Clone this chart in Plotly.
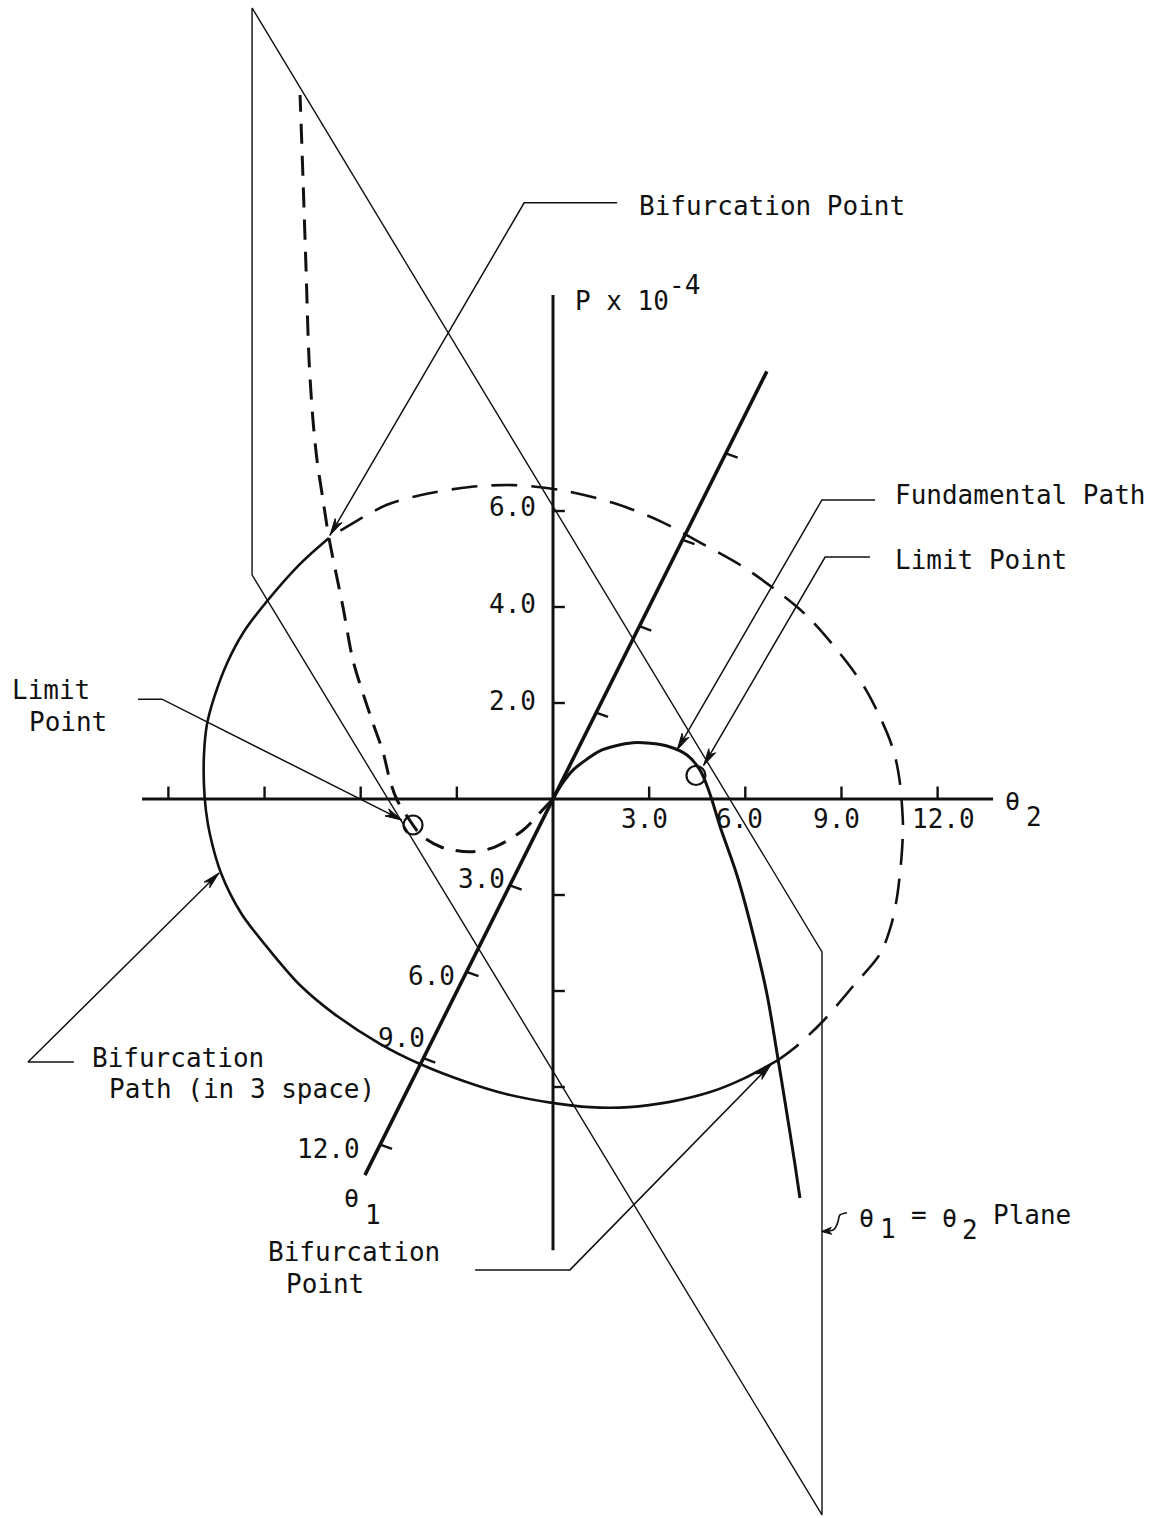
import math
import plotly.graph_objects as go

# ---------------------------------------------------------------
# Oblique drawing: horizontal = theta2, vertical = P (x 10^-4),
# theta1 is drawn receding down-left.
# ---------------------------------------------------------------
TH1_DX = -0.4493   # theta2-units of horizontal shift per unit theta1
TH1_DY = -0.600    # P-units of vertical shift per unit theta1
PX_X, PX_Y = 32.05, 48.0   # pixels per theta2-unit / per P-unit on the page


def proj(th1, th2, p):
    return th2 + TH1_DX * th1, p + TH1_DY * th1


def plane_pts(t_list, p_list):
    """Points of the theta1 = theta2 = t plane."""
    xs, ys = [], []
    for t, p in zip(t_list, p_list):
        x, y = proj(t, t, p)
        xs.append(x)
        ys.append(y)
    return xs, ys


# ---------------- data ----------------
theta2_ticks = [-12, -9, -6, -3, 3, 6, 9, 12]
theta2_labels = ["3.0", "6.0", "9.0", "12.0"]
P_ticks = [-6, -4, -2, 2, 4, 6]
P_labels = ["2.0", "4.0", "6.0"]
theta1_ticks = [-12, -9, -6, -3, 3, 6, 9, 12]
theta1_labels = ["3.0", "6.0", "9.0", "12.0"]

theta2_range = [-12.82, 13.73]
P_range = [-9.4, 10.5]
theta1_range = [-14.85, 13.06]

# fundamental path in the theta1 = theta2 plane (t = theta1 = theta2)
fund_pos_t = [0, 0.51, 1.13, 1.93, 2.66, 3.51, 4.53, 5.50, 6.46, 7.59, 8.33,
              8.73, 9.01, 9.46, 10.42, 11.33, 12.12, 12.75, 13.31, 13.71, 13.99]
fund_pos_P = [0, 0.62, 1.28, 1.99, 2.60, 3.21, 3.89, 4.46, 4.98, 5.47, 5.60,
              5.51, 5.38, 5.11, 4.67, 3.99, 3.21, 2.23, 1.30, 0.61, 0.08]
fund_neg_t = [0, -0.45, -1.70, -3.34, -4.70, -6.35, -7.48, -7.93, -8.84, -9.24,
              -9.63, -10.20, -10.65, -11.33, -11.90, -12.69, -13.03, -13.37,
              -13.60, -13.82, -13.99, -14.16, -14.33]
fund_neg_P = [0, -0.44, -1.67, -3.01, -3.92, -4.81, -5.24, -5.30, -5.32, -5.15,
              -4.80, -4.54, -4.32, -3.91, -3.14, -2.18, -1.59, -0.96,
              -0.26, 0.85, 2.63, 4.39, 6.07]

# limit points and bifurcation points on the fundamental path
limit_t = [-7.93, 8.10]
limit_P = [-5.30, 5.35]
bifpt_t = [-12.69, 12.75]
bifpt_P = [-2.18, 2.22]

# theta1 = theta2 plane outline (t, P corners)
plane_t = [-17.05, 15.24, 15.24, -17.05, -17.05]
plane_P = [6.25, 5.96, -5.77, -5.56, 6.25]

# bifurcation path (in 3 space), as drawn on the theta2-P page
bif_front_x = [-6.99, -7.89, -8.95, -9.67, -10.17, -10.58, -10.80, -10.89, -10.89,
               -10.83, -10.70, -10.36, -9.73, -8.77, -7.89, -6.86, -5.40, -4.15,
               -2.68, -1.44, -0.03, 1.15, 2.37, 3.65, 4.93, 5.93, 7.02]
bif_front_y = [5.44, 4.90, 4.10, 3.46, 2.83, 2.10, 1.54, 0.92, 0.29,
               -0.23, -0.75, -1.54, -2.38, -3.21, -3.88, -4.46, -5.10, -5.52,
               -5.90, -6.15, -6.33, -6.42, -6.42, -6.31, -6.10, -5.83, -5.44]
bif_back_x = [7.02, 7.49, 8.42, 9.36, 10.20, 10.55, 10.73, 10.83, 10.89, 10.92,
              10.89, 10.83, 10.70, 10.51, 10.20, 9.77, 9.17, 7.93, 6.86, 5.83,
              4.62, 3.34, 1.87, 0.22, -1.25, -2.59, -4.15, -5.18, -6.24, -6.99]
bif_back_y = [-5.44, -5.21, -4.63, -3.90, -3.23, -2.63, -2.06, -1.52, -1.06, -0.58,
              -0.15, 0.31, 0.81, 1.23, 1.71, 2.27, 2.85, 3.81, 4.40, 4.88,
              5.33, 5.79, 6.17, 6.44, 6.54, 6.50, 6.33, 6.13, 5.75, 5.44]

INK = "#111111"
FONT = "DejaVu Sans Mono"

fig = go.Figure()


def line(xs, ys, width, dash=None, shape="linear"):
    fig.add_trace(go.Scatter(
        x=xs, y=ys, mode="lines", hoverinfo="skip", showlegend=False,
        line=dict(color=INK, width=width, dash=dash, shape=shape, smoothing=0.9)))


def arrowhead(tail, tip, length=17, half=4.0):
    """Slim filled arrowhead (sizes in page pixels) at tip, pointing away from tail."""
    dx = (tip[0] - tail[0]) * PX_X
    dy = (tip[1] - tail[1]) * PX_Y
    n = math.hypot(dx, dy)
    ux, uy = dx / n, dy / n
    nx, ny = -uy, ux
    pts = [(0, 0), (-length * ux + half * nx, -length * uy + half * ny),
           (-0.72 * length * ux, -0.72 * length * uy),
           (-length * ux - half * nx, -length * uy - half * ny), (0, 0)]
    fig.add_trace(go.Scatter(
        x=[tip[0] + px / PX_X for px, _ in pts],
        y=[tip[1] + py / PX_Y for _, py in pts],
        mode="lines", fill="toself", fillcolor=INK, hoverinfo="skip",
        showlegend=False, line=dict(color=INK, width=1)))


# plane outline
px, py = plane_pts(plane_t, plane_P)
line(px, py, 1.4)

# theta2 axis and ticks
line(theta2_range, [0, 0], 3.2)
tx, ty = [], []
for v in theta2_ticks:
    tx += [v, v, None]
    ty += [0, 0.26, None]
line(tx, ty, 2.4)

# P axis and ticks
line([0, 0], P_range, 3.0)
tx, ty = [], []
for v in P_ticks:
    tx += [0, 0.37, None]
    ty += [v, v, None]
line(tx, ty, 2.4)

# theta1 axis and ticks
a0 = proj(theta1_range[0], 0, 0)
a1 = proj(theta1_range[1], 0, 0)
line([a0[0], a1[0]], [a0[1], a1[1]], 3.6)
tx, ty = [], []
for v in theta1_ticks:
    x0, y0 = proj(v, 0, 0)
    tx += [x0, x0 + 0.37, None]
    ty += [y0, y0 - 0.09, None]
line(tx, ty, 2.4)

# bifurcation path: front (solid) and hidden (dashed) parts
line(bif_front_x, bif_front_y, 2.6, shape="spline")
line(bif_back_x, bif_back_y, 2.6, dash="26px,14px", shape="spline")

# fundamental path
fx, fy = plane_pts(fund_pos_t, fund_pos_P)
line(fx, fy, 3.0, shape="spline")
fx, fy = plane_pts(fund_neg_t, fund_neg_P)
line(fx, fy, 3.0, dash="20px,12px", shape="spline")

# limit points
lx, ly = plane_pts(limit_t, limit_P)
fig.add_trace(go.Scatter(
    x=lx, y=ly, mode="markers", hoverinfo="skip", showlegend=False,
    marker=dict(symbol="circle-open", size=19, color=INK, line=dict(width=2.2, color=INK))))
bx, by = plane_pts(bifpt_t, bifpt_P)

annotations = []


def text(x, y, s, size=26, anchor="left"):
    annotations.append(dict(
        x=x, y=y, xref="x", yref="y", text=s, showarrow=False,
        xanchor=anchor, yanchor="middle",
        font=dict(family=FONT, size=size, color=INK)))


def leader(h_from, elbow, tip):
    line([h_from[0], elbow[0], tip[0]], [h_from[1], elbow[1], tip[1]], 1.5)
    arrowhead(elbow, tip)


# axis tick labels
for lbl, x in zip(theta2_labels, [2.84, 5.83, 8.86, 12.17]):
    text(x, -0.42, lbl, anchor="center")
for lbl, y in zip(P_labels, [2.04, 4.06, 6.08]):
    text(-0.47, y, lbl, anchor="right")
for lbl, (x, y) in zip(theta1_labels, [(-1.43, -1.67), (-3.0, -3.69),
                                       (-3.93, -4.98), (-5.96, -7.29)]):
    text(x, y, lbl, anchor="right")

# axis titles
text(0.62, 10.37, "P x 10")
text(3.55, 10.70, "-4")
text(14.05, -0.06, "θ", size=25)
text(14.68, -0.38, "2")
text(-6.58, -8.33, "θ", size=25)
text(-5.93, -8.66, "1")

# callouts
leader((2.00, 12.42), (-0.90, 12.42), (bx[0] + 0.03, by[0] + 0.06))
text(2.62, 12.35, "Bifurcation Point")

leader((10.05, 6.23), (8.39, 6.23), (3.87, 1.02))
text(10.61, 6.33, "Fundamental Path")

leader((9.89, 5.04), (8.49, 5.04), (4.70, 0.70))
text(10.61, 4.98, "Limit Point")

leader((-12.95, 2.08), (-12.20, 2.08), (-4.71, -0.44))
text(-16.94, 2.27, "Limit")
text(-16.41, 1.60, "Point")

leader((-14.95, -5.48), (-16.38, -5.48), (-10.42, -1.54))
text(-14.45, -5.40, "Bifurcation")
text(-13.92, -6.04, "Path (in 3 space)")

leader((-2.43, -9.81), (0.53, -9.81), (bx[1] - 0.22, by[1] - 0.10))
text(-8.95, -9.44, "Bifurcation")
text(-8.39, -10.10, "Point")

# plane label with curled pointer
line([9.17, 8.95, 8.89, 8.78, 8.62], [-8.62, -8.67, -8.81, -8.96, -9.00], 1.6, shape="spline")
arrowhead((8.62, -9.00), (8.38, -9.01), length=10, half=3.5)
text(9.50, -8.73, "θ", size=25)
text(10.15, -8.95, "1")
text(11.11, -8.67, "=")
text(12.08, -8.73, "θ", size=25)
text(12.70, -8.98, "2")
text(13.67, -8.67, "Plane")

fig.update_layout(
    width=1166, height=1518,
    margin=dict(l=0, r=0, t=0, b=0),
    paper_bgcolor="white", plot_bgcolor="white",
    showlegend=False,
    annotations=annotations,
    xaxis=dict(range=[-17.254, 19.126], visible=False, fixedrange=True),
    yaxis=dict(range=[-14.979, 16.646], visible=False, fixedrange=True),
)

fig.write_html("out.html")
